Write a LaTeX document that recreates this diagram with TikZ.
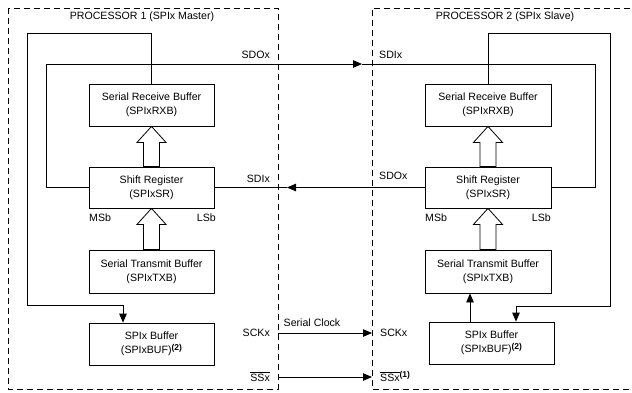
\documentclass[tikz,border=0pt]{standalone}
\usepackage{fontspec}
\setmainfont{Liberation Sans}
\usetikzlibrary{arrows.meta,calc}
\begin{document}
\begin{tikzpicture}[x=1pt,y=-1pt,
  font=\fontsize{10.6}{14.5}\selectfont,
  blk/.style={draw, line width=0.8pt, minimum width=125pt, minimum height=42pt, align=center, inner sep=0pt},
  ln/.style={line width=0.8pt},
  arr/.style={ln, -{Triangle[length=9pt,width=7.5pt]}},
  frame/.style={dash pattern=on 6pt off 4pt, line width=0.7pt},
  hollow/.style={draw, line width=0.8pt, fill=white, line join=miter},
  lbl/.style={inner sep=0pt}]
\newcommand{\supb}[1]{\raisebox{0.6ex}{\fontsize{8.5}{9}\selectfont\bfseries #1}}
\useasboundingbox (0,0) rectangle (632,392);
% frames
\draw[frame] (8,8) rectangle (278,389);
\draw[frame] (640,8) -- (372,8) -- (372,389) -- (640,389);
\node[lbl] (t1) at (142,17) {PROCESSOR 1 (SPIx Master)};
\node[lbl] (t2) at (505,17) {PROCESSOR 2 (SPIx Slave)};
% master boxes
\node[blk] (rxb1) at (151.5,105) {Serial Receive Buffer\\(SPIxRXB)};
\node[blk, minimum height=41pt] (sr1) at (151.5,187.5) {Shift Register\\(SPIxSR)};
\node[blk, minimum height=43pt] (txb1) at (151.5,271.5) {Serial Transmit Buffer\\(SPIxTXB)};
\node[blk] (buf1) at (151.5,344) {SPIx Buffer\\(SPIxBUF)\supb{(2)}};
% slave boxes
\node[blk, minimum width=126pt] (rxb2) at (488,105) {Serial Receive Buffer\\(SPIxRXB)};
\node[blk, minimum width=126pt, minimum height=41pt] (sr2) at (488,187.5) {Shift Register\\(SPIxSR)};
\node[blk, minimum width=126pt, minimum height=43pt] (txb2) at (488,271.5) {Serial Transmit Buffer\\(SPIxTXB)};
\node[blk] (buf2) at (491.5,343) {SPIx Buffer\\(SPIxBUF)\supb{(2)}};
% hollow arrows
\foreach \a/\b in {rxb1/sr1, sr1/txb1, rxb2/sr2, sr2/txb2}{
  \draw[hollow] (\a.south) -- ($(\a.south)+(14.5,16)$) -- ($(\a.south)+(8,16)$)
    -- ($(\b.north)+(8,0)$) -- ($(\b.north)+(-8,0)$) -- ($(\a.south)+(-8,16)$)
    -- ($(\a.south)+(-14.5,16)$) -- cycle;
}
% labels
\node[lbl, anchor=east] (sdo1) at (270,55) {SDOx};
\node[lbl, anchor=east] (sdi1) at (270,179) {SDIx};
\node[lbl, anchor=west] (sdi2) at (379,55) {SDIx};
\node[lbl, anchor=west] (sdo2) at (379,176) {SDOx};
\node[lbl, anchor=west] (msb1) at (89,218) {MSb};
\node[lbl, anchor=east] (lsb1) at (216,218) {LSb};
\node[lbl, anchor=west] (msb2) at (425,218) {MSb};
\node[lbl, anchor=east] (lsb2) at (551,218) {LSb};
\node[lbl, anchor=east] (sck1) at (270,333) {SCKx};
\node[lbl, anchor=west] (sck2) at (380,333) {SCKx};
\node[lbl] (clk) at (312,323) {Serial Clock};
\node[lbl, anchor=base east] (ss1) at (270,381) {$\overline{\mbox{SSx}}$};
\node[lbl, anchor=base west] (ss2) at (380,381) {$\overline{\mbox{SSx}}$\supb{(1)}};
% master loop to SPIxBUF
\coordinate (l1a) at (27,33);
\coordinate (l1b) at (27,305);
\draw[arr] (rxb1.north) |- (l1a) -- (l1b) -| ($(buf1.north)+(-28.5,0)$);
% SDO master -> SDI slave
\coordinate (c1) at (46,64);
\coordinate (c2) at (362,64);
\coordinate (c3) at (595,64);
\draw[arr] (sr1.west) -| (c1) -- (c2);
\draw[ln] (c2) -- (c3) |- (sr2.east);
% SDO slave -> SDI master
\coordinate (c4) at (287,187.5);
\draw[arr] (sr2.west) -- (c4);
\draw[ln] (c4) -- (sr1.east);
% slave loop
\coordinate (r1a) at (610,33);
\coordinate (r1b) at (610,306);
\draw[arr] (rxb2.north) |- (r1a) -- (r1b) -| ($(buf2.north)+(24.5,0)$);
\coordinate (b2o) at ($(buf2.north)+(-21.5,0)$);
\draw[arr] (b2o) -- (b2o |- txb2.south);
% clock and SS
\coordinate (ck1) at (278,333);
\coordinate (ck2) at (372,333);
\draw[arr] (ck1) -- (ck2);
\coordinate (ssa) at (278,377);
\coordinate (ssb) at (372,377);
\draw[arr] (ssa) -- (ssb);
\end{tikzpicture}
\end{document}
